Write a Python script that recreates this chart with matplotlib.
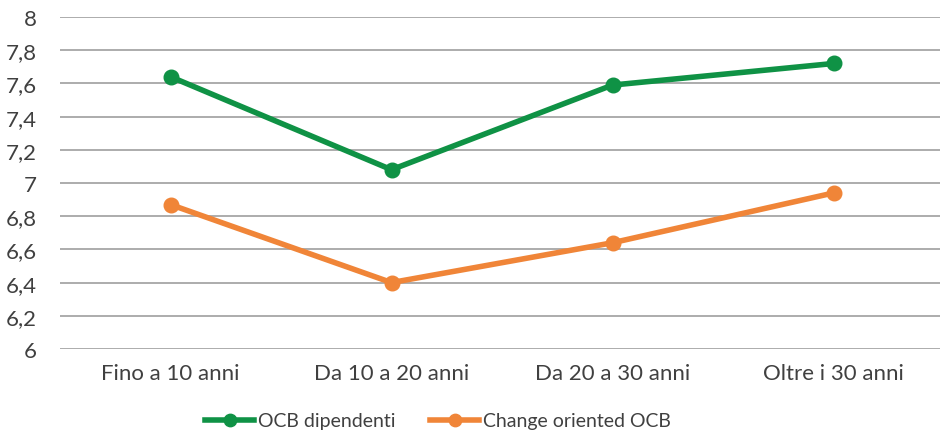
import matplotlib
matplotlib.use("Agg")
import matplotlib.pyplot as plt

categories = ["Fino a 10 anni", "Da 10 a 20 anni", "Da 20 a 30 anni", "Oltre i 30 anni"]
ocb_dipendenti = [7.64, 7.08, 7.59, 7.72]
change_oriented = [6.87, 6.40, 6.64, 6.94]
yticks = [6, 6.2, 6.4, 6.6, 6.8, 7, 7.2, 7.4, 7.6, 7.8, 8]
ytick_labels = ["6", "6,2", "6,4", "6,6", "6,8", "7", "7,2", "7,4", "7,6", "7,8", "8"]

plt.rcParams['font.family'] = ['Lato', 'DejaVu Sans']
text_color = "#404040"

fig = plt.figure(figsize=(9.4, 4.39), dpi=100)
ax = fig.add_axes([60/940, 1-350/439, 884/940, 332/439])

x = range(len(categories))
ax.plot(x, ocb_dipendenti, color="#0F9245", lw=4, marker="o", ms=10.5, label="OCB dipendenti", zorder=3)
ax.plot(x, change_oriented, color="#F08538", lw=4, marker="o", ms=10.5, label="Change oriented OCB", zorder=3)

ax.set_xlim(-0.5, 3.5)
ax.set_ylim(6, 8)
ax.set_yticks(yticks)
ax.set_yticklabels(ytick_labels)
ax.set_xticks(list(x))
ax.set_xticklabels(categories)
ax.grid(axis="y", color="#A6A6A6", lw=1.3)
ax.set_axisbelow(True)
for s in ax.spines.values():
    s.set_visible(False)
ax.tick_params(axis="both", length=0, labelsize=16, colors=text_color)
ax.tick_params(axis="y", pad=17)
ax.tick_params(axis="x", pad=10)

leg = fig.legend(loc="center", bbox_to_anchor=(0.466, 1-422/439), ncol=2, frameon=False,
                 fontsize=14, handlelength=2.5, handletextpad=0.2, columnspacing=1.8,
                 markerscale=0.85)
for t in leg.get_texts():
    t.set_color(text_color)

fig.savefig("out.png", dpi=100)
